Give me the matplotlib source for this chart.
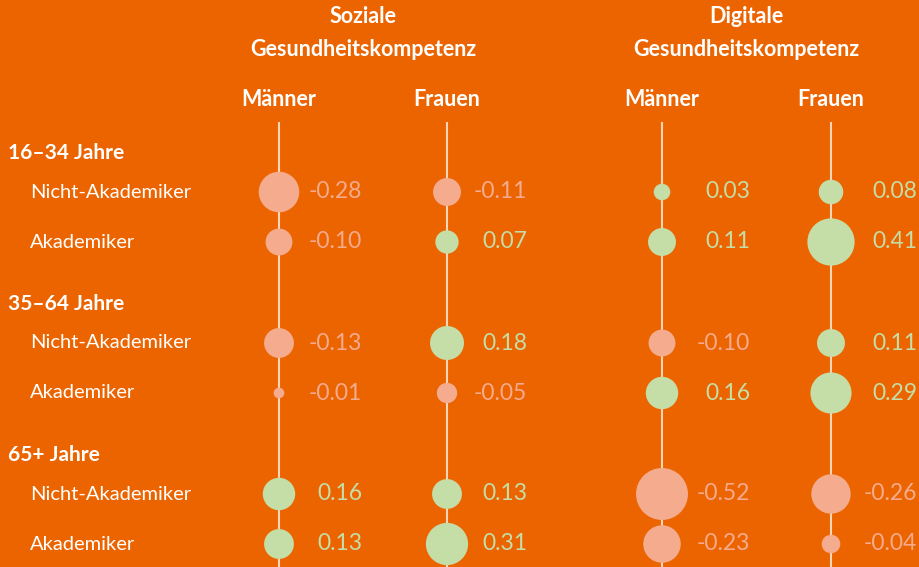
import matplotlib.pyplot as plt
import numpy as np

plt.rcParams['font.family'] = ['Lato', 'DejaVu Sans']

ORANGE = "#EC6400"
SALMON = "#F4AB8E"
GREEN  = "#C5DDA6"
LINE   = "#FBD5B8"
WHITE  = "#FFFFFF"

# ── data ────────────────────────────────────────────────────────────────────
groups   = ["16–34 Jahre", "35–64 Jahre", "65+ Jahre"]
subrows  = ["Nicht-Akademiker", "Akademiker"]
sections = ["Soziale\nGesundheitskompetenz", "Digitale\nGesundheitskompetenz"]
sexes    = ["Männer", "Frauen"]

# rows: (16-34 NA, 16-34 A, 35-64 NA, 35-64 A, 65+ NA, 65+ A)
soz_m = [-0.28, -0.10, -0.13, -0.01, 0.16, 0.13]
soz_f = [-0.11,  0.07,  0.18, -0.05, 0.13, 0.31]
dig_m = [ 0.03,  0.11, -0.10,  0.16, -0.52, -0.23]
dig_f = [ 0.08,  0.41,  0.11,  0.29, -0.26, -0.04]
columns = [soz_m, soz_f, dig_m, dig_f]

# ── layout (pixel space) ────────────────────────────────────────────────────
W, H = 919, 567
col_x   = [279, 447, 662, 831]
label_x = [362, 527, 750, 917]
group_y = [153 + 151 * g for g in range(len(groups))]
row_y   = [gy + 39 + 50 * r for gy in group_y for r in range(len(subrows))]

fig = plt.figure(figsize=(W / 100, H / 100), dpi=100, facecolor=ORANGE)
ax = fig.add_axes([0, 0, 1, 1])
ax.set_facecolor(ORANGE)
ax.set_xlim(0, W)
ax.set_ylim(H, 0)
ax.axis("off")

# section titles and column heads
for i, title in enumerate(sections):
    cx = (col_x[2 * i] + col_x[2 * i + 1]) / 2
    ax.text(cx, 33, title, ha="center", va="center", color=WHITE,
            fontsize=15.5, fontweight="bold", linespacing=1.7)
for j, x in enumerate(col_x):
    ax.text(x, 100, sexes[j % 2], ha="center", va="center", color=WHITE,
            fontsize=15.5, fontweight="bold")
    ax.plot([x, x], [122, H], color=LINE, lw=1.5, zorder=1, solid_capstyle="butt")

# row labels
for g, name in enumerate(groups):
    ax.text(8, group_y[g], name, ha="left", va="center", color=WHITE,
            fontsize=15, fontweight="bold")
for k, y in enumerate(row_y):
    ax.text(30, y, subrows[k % 2], ha="left", va="center", color=WHITE, fontsize=14.5)

# bubbles + values
for j, vals in enumerate(columns):
    vals = np.array(vals)
    colors = [GREEN if v > 0 else SALMON for v in vals]
    sizes = 2362 * np.abs(vals) ** 0.8
    ax.scatter([col_x[j]] * len(vals), row_y, s=sizes, c=colors,
               edgecolors="none", zorder=3)
    for v, y, c in zip(vals, row_y, colors):
        ax.text(label_x[j], y, f"{v:.2f}", ha="right", va="center",
                color=c, fontsize=16.5)

plt.savefig("out.png", dpi=100, facecolor=ORANGE)
